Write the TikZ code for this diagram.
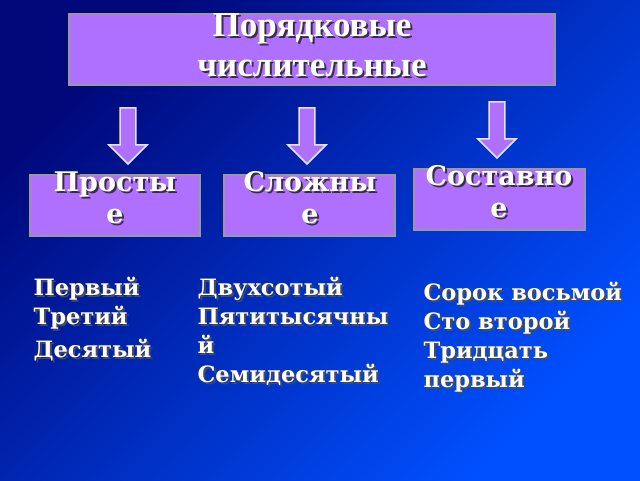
\documentclass[tikz,border=0pt]{standalone}
\usepackage{fontspec}
\setmainfont{Liberation Serif}
\newfontfamily\listfont{DejaVu Serif}
\usetikzlibrary{shapes.arrows}
\definecolor{bgA}{HTML}{00087A}
\definecolor{bgB}{HTML}{0050FF}
\definecolor{boxc}{HTML}{B070FF}
\tikzset{
 box/.style={fill=boxc,draw=gray!80,line width=1.5pt},
 ttl/.style={text=white,font=\bfseries\fontsize{35}{40}\selectfont,align=center,anchor=north},
 shd/.style={text=black!80,font=\bfseries\fontsize{35}{40}\selectfont,align=center,anchor=north},
 btl/.style={text=white,font=\listfont\bfseries\fontsize{27}{32}\selectfont,align=center,anchor=north},
 bshd/.style={text=black!80,font=\listfont\bfseries\fontsize{27}{32}\selectfont,align=center,anchor=north},
 lst/.style={text=white,font=\listfont\bfseries\fontsize{22.5}{29}\selectfont,align=left,anchor=north west},
 lsts/.style={text=black!70,font=\listfont\bfseries\fontsize{22.5}{29}\selectfont,align=left,anchor=north west},
 arr/.style={single arrow,shape border rotate=270,fill=boxc,draw=white!80!gray,line width=1.5pt,minimum width=38pt,single arrow head extend=8pt,single arrow tip angle=90,minimum height=56pt,inner sep=5pt}
}
\begin{document}
\begin{tikzpicture}[x=1pt,y=-1pt]
\useasboundingbox (0,0) rectangle (640,480);
\shade[left color=bgA,right color=bgB,shading angle=45] (0,0) rectangle (640,480);
% boxes
\draw[box] (69,14) rectangle (555,85);
\draw[box] (30,175) rectangle (200,236);
\draw[box] (224,175) rectangle (395,236);
\draw[box] (414,169) rectangle (585,230);
\node[shd] (t0s) at (314,12) {Порядковые\\числительные};
\node[ttl] (t0) at (312,10) {Порядковые\\числительные};
\node[bshd] (t1s) at (117,170) {Просты\\е};
\node[btl] (t1) at (115,168) {Просты\\е};
\node[bshd] (t2s) at (312,170) {Сложны\\е};
\node[btl] (t2) at (310,168) {Сложны\\е};
\node[bshd] (t3s) at (501,164) {Составно\\е};
\node[btl] (t3) at (499,162) {Составно\\е};
% arrows
\node[arr] (a1) at (128,132) {};
\node[arr] (a2) at (307,132) {};
\node[arr] (a3) at (497,126) {};
% lists
\node[lsts] (l1s) at (32,276) {Первый\\Третий\\[4pt]Десятый};
\node[lst] (l1) at (30,274) {Первый\\Третий\\[4pt]Десятый};
\node[lsts] (l2s) at (196,276) {Двухсотый\\Пятитысячны\\й\\Семидесятый};
\node[lst] (l2) at (194,274) {Двухсотый\\Пятитысячны\\й\\Семидесятый};
\node[lsts] (l3s) at (422,281) {Сорок восьмой\\Сто второй\\Тридцать\\первый};
\node[lst] (l3) at (420,279) {Сорок восьмой\\Сто второй\\Тридцать\\первый};
\end{tikzpicture}
\end{document}
